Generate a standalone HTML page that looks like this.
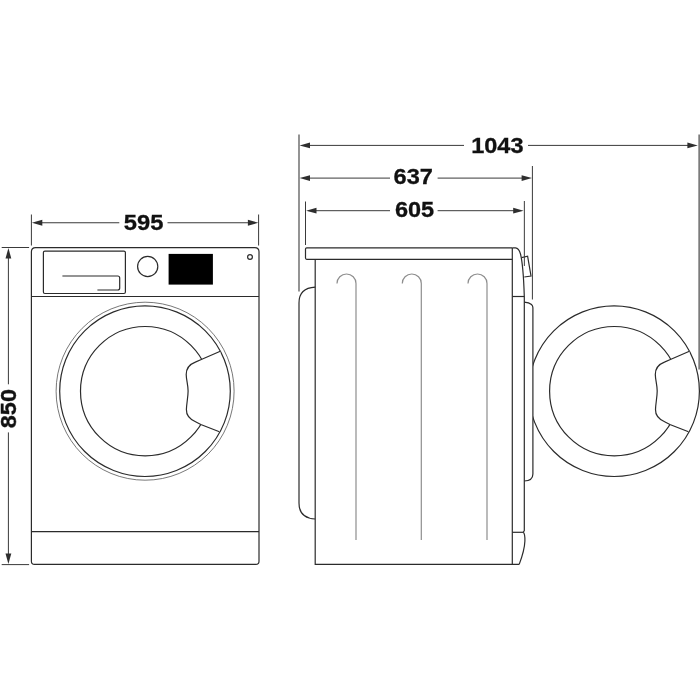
<!DOCTYPE html>
<html><head><meta charset="utf-8">
<style>
html,body{margin:0;padding:0;background:#fff;}
body{width:700px;height:700px;overflow:hidden;font-family:"Liberation Sans",sans-serif;}
svg{display:block;}
text{font-family:"Liberation Sans",sans-serif;font-weight:bold;fill:#111;}
</style></head><body>
<svg width="700" height="700" viewBox="0 0 700 700">
<rect width="700" height="700" fill="#fff"/>
<g fill="none" stroke="#2b2b2b" stroke-width="1.2">
<!-- FRONT VIEW -->
<path d="M35.6,247.6 H254.8 Q259,247.6 259,251.8 V561.2 Q259,564.4 255.8,564.4 H34.6 Q31.4,564.4 31.4,561.2 V251.8 Q31.4,247.6 35.6,247.6 Z"/>
<line x1="31.4" y1="296.5" x2="259" y2="296.5"/>
<line x1="31.4" y1="531.7" x2="259" y2="531.7"/>
<rect x="43.4" y="251.1" width="82" height="42.4" rx="1.5"/>
<path d="M62.4,276 H117.7 Q119.7,276 119.7,278 V288 Q119.7,290 117.7,290 H97.4"/>
<circle cx="147.7" cy="266.5" r="10.1"/>
<rect x="168.6" y="253.9" width="44.3" height="30.7" fill="#000" stroke="none"/>
<circle cx="250" cy="257" r="2.4"/>
<!-- door -->
<circle cx="145.1" cy="391.2" r="89" stroke="#555" stroke-width="0.8"/>
<g id="door">
<circle cx="145" cy="391.2" r="85.3"/>
<circle cx="145.2" cy="391.2" r="64.7"/>
<path d="M220.3,351.3 L201.3,359.5 L195.3,362.1 C189.5,364.3 186.2,368.5 186.2,374.5 C186.3,380 188.1,385 188.1,391 C188.1,397 186.6,403 186.4,409.5 C186.2,415.5 190,419.5 196,422 L200.8,424.5 L219.4,431.8 Z" fill="#fff" stroke="none"/>
<path d="M220.3,351.3 L201.3,359.5 L195.3,362.1 C189.5,364.3 186.2,368.5 186.2,374.5 C186.3,380 188.1,385 188.1,391 C188.1,397 186.6,403 186.4,409.5 C186.2,415.5 190,419.5 196,422 L200.8,424.5 L219.4,431.8"/>
</g>
<!-- SIDE VIEW -->
<!-- lid -->
<path d="M512.3,247.9 H306.7 Q305.5,247.9 305.5,249.1 V258.1 Q305.5,259.3 306.7,259.3 H512.3"/>
<path d="M315.2,259.3 V564.4 H519.2"/>
<path d="M315.2,287.2 C305,287.7 299,293 299,303 V503 C299,513 305,518.5 315.2,519"/>
<!-- hooks -->
<g stroke="#8e8e8e">
<path d="M337,283.5 A9.5,9.5 0 0 1 356,283.5 V540"/>
<path d="M402.3,283.5 A9.5,9.5 0 0 1 421.3,283.5 V540"/>
<path d="M468,283.5 A9.5,9.5 0 0 1 487,283.5 V540"/>
</g>
<!-- front edge -->
<line x1="512.3" y1="247.9" x2="512.3" y2="564.4"/>
<path d="M512.3,247.9 H515.5 C518.5,248.1 519.5,250.5 520.5,254 C522.5,262 523.6,274 524.3,296.5 V530.5 L523.3,532.2"/>
<line x1="512.3" y1="296.5" x2="524.3" y2="296.5"/>
<line x1="512.3" y1="532.3" x2="523.3" y2="532.3"/>
<path d="M523.3,532.2 C524.8,533.5 525,537 524.9,541 C524.6,549 522,557 519.2,564.4"/>
<path d="M521.6,257.6 L527.6,256.2 L531,276 L524.3,277"/>
<path d="M524.3,302.1 C527.5,302.3 530,303.2 531.5,304.5 C532.5,305.4 532.9,306.3 532.9,307.8 V474 C532.9,478.5 529.5,480.8 524.3,481"/>
</g>
<!-- open door -->
<g fill="none" stroke="#2b2b2b" stroke-width="1.2">
<clipPath id="cp2"><rect x="63.8" y="0" width="300" height="700"/></clipPath>
<g transform="translate(469.1,0)" clip-path="none">
<circle cx="145" cy="391.2" r="85.3" clip-path="url(#cp2)"/>
<circle cx="145.2" cy="391.2" r="64.7"/>
<path d="M220.3,351.3 L201.3,359.5 L195.3,362.1 C189.5,364.3 186.2,368.5 186.2,374.5 C186.3,380 188.1,385 188.1,391 C188.1,397 186.6,403 186.4,409.5 C186.2,415.5 190,419.5 196,422 L200.8,424.5 L219.4,431.8 Z" fill="#fff" stroke="none"/>
<path d="M220.3,351.3 L201.3,359.5 L195.3,362.1 C189.5,364.3 186.2,368.5 186.2,374.5 C186.3,380 188.1,385 188.1,391 C188.1,397 186.6,403 186.4,409.5 C186.2,415.5 190,419.5 196,422 L200.8,424.5 L219.4,431.8"/>
</g>
</g>
<!-- DIMENSIONS -->
<g fill="none" stroke="#3a3a3a" stroke-width="1">
<!-- 595 -->
<line x1="31.4" y1="214.5" x2="31.4" y2="245.5"/>
<line x1="258.6" y1="214.5" x2="258.6" y2="245.5"/>
<line x1="38" y1="222.75" x2="119.3" y2="222.75"/>
<line x1="167.5" y1="222.75" x2="252" y2="222.75"/>
<!-- 850 -->
<line x1="1.7" y1="247.5" x2="29.1" y2="247.5"/>
<line x1="1.7" y1="564.6" x2="29.1" y2="564.6"/>
<line x1="8.4" y1="254" x2="8.4" y2="384.3"/>
<line x1="8.4" y1="432.4" x2="8.4" y2="558"/>
<!-- right -->
<line x1="299" y1="134.5" x2="299" y2="291.5" stroke="#666" stroke-width="1.4"/>
<line x1="305.5" y1="201.5" x2="305.5" y2="245"/>
<line x1="524.35" y1="201" x2="524.35" y2="266"/>
<line x1="532.4" y1="166" x2="532.4" y2="299.5"/>
<line x1="699.2" y1="134.6" x2="699.2" y2="369.5" stroke="#7c7c7c" stroke-width="1.8"/>
<line x1="306" y1="145.4" x2="464" y2="145.4"/>
<line x1="528" y1="145.4" x2="692" y2="145.4"/>
<line x1="306" y1="178.1" x2="390" y2="178.1"/>
<line x1="437.6" y1="178.1" x2="526" y2="178.1"/>
<line x1="312" y1="210.7" x2="390" y2="210.7"/>
<line x1="437.6" y1="210.7" x2="518" y2="210.7"/>
</g>
<g fill="#2e2e2e" stroke="none">
<path d="M31.9,222.75 l10.4,-2.9 v5.8z"/>
<path d="M258.3,222.75 l-10.4,-2.9 v5.8z"/>
<path d="M8.4,248.1 l-2.9,10.4 h5.8z"/>
<path d="M8.4,564 l-2.9,-10.4 h5.8z"/>
<path d="M299.6,145.4 l10.4,-2.9 v5.8z"/>
<path d="M697.8,145.4 l-10.4,-2.9 v5.8z"/>
<path d="M299.6,178.1 l10.4,-2.9 v5.8z"/>
<path d="M532,178.1 l-10.4,-2.9 v5.8z"/>
<path d="M306.1,210.7 l10.4,-2.9 v5.8z"/>
<path d="M523.6,210.7 l-10.4,-2.9 v5.8z"/>
</g>
<g font-size="22" text-anchor="middle" stroke="#111" stroke-width="0.3" style="opacity:0.999">
<text id="t595" transform="translate(143.6,229.8) scale(1.08,1)">595</text>
<text id="t1043" transform="translate(497.3,152.6) scale(1.07,1)">1043</text>
<text id="t637" transform="translate(413.2,184.3) scale(1.07,1)">637</text>
<text id="t605" transform="translate(414.5,217.3) scale(1.07,1)">605</text>
<text id="t850" transform="translate(16,408.7) rotate(-90) scale(1.07,1)">850</text>
</g>
</svg>
</body></html>
